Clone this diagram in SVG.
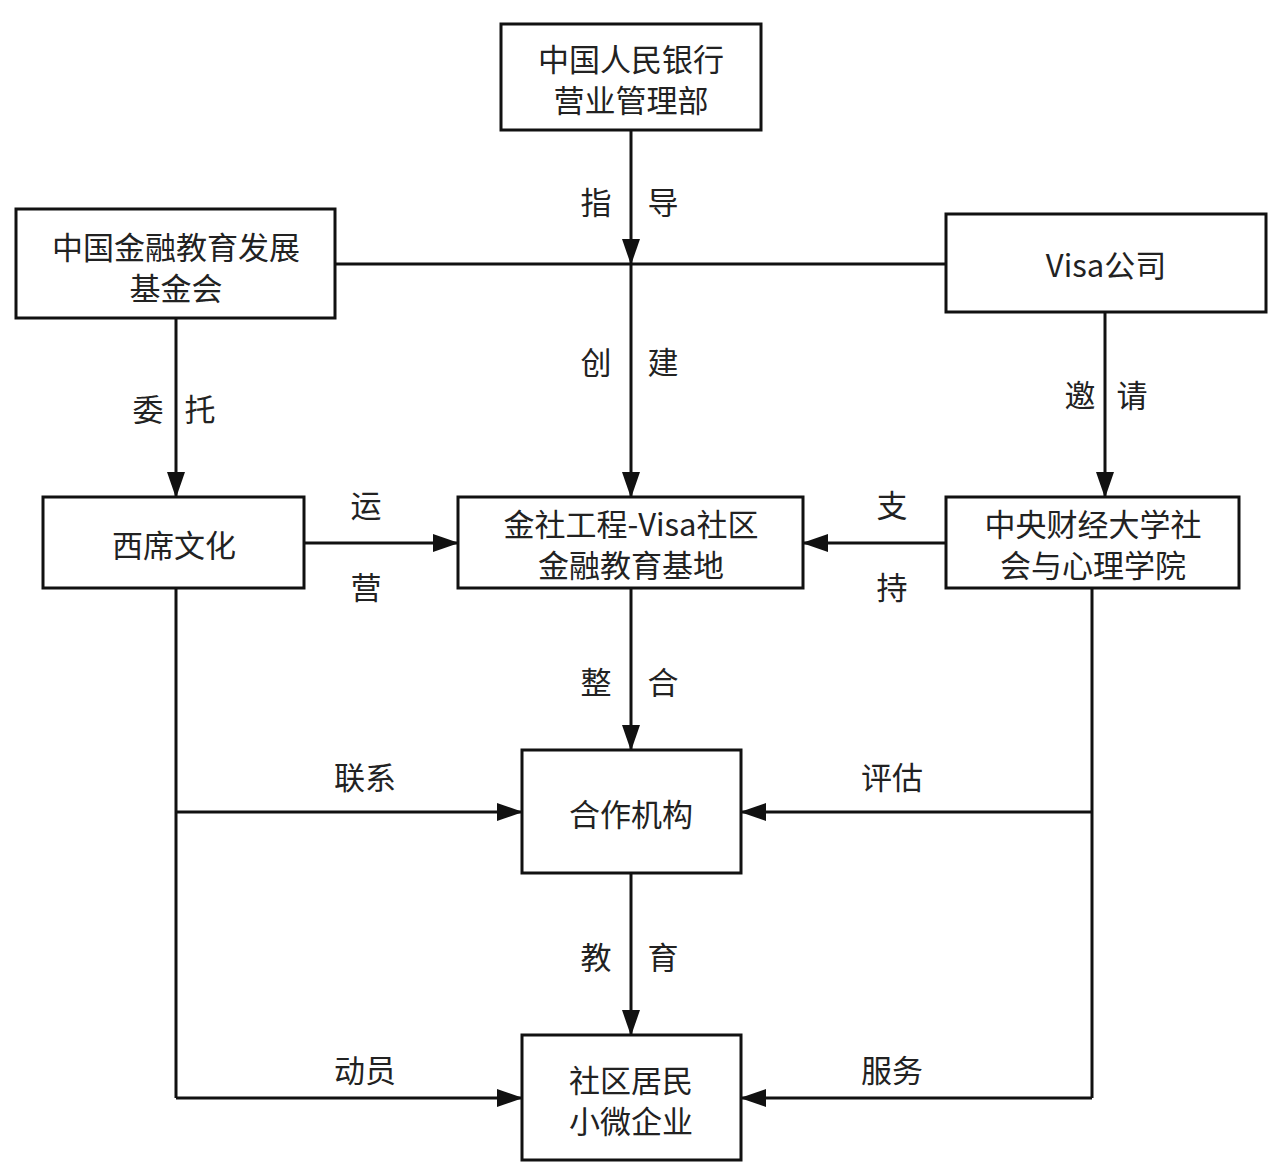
<svg xmlns="http://www.w3.org/2000/svg" width="1287" height="1167" viewBox="0 0 1287 1167">
<defs>
<marker id="ah" markerUnits="userSpaceOnUse" markerWidth="26" markerHeight="18" refX="25" refY="9" orient="auto">
<path d="M0,0 L26,9 L0,18 Z" fill="#111"/>
</marker>
<style>
.box{fill:#fff;stroke:#111;stroke-width:3}
.ln{fill:none;stroke:#111;stroke-width:3}
.arr{fill:none;stroke:#111;stroke-width:3;marker-end:url(#ah)}
text{font-family:"Noto Sans CJK SC","Noto Sans",sans-serif;font-size:31px;fill:#222;text-anchor:middle;dominant-baseline:central}
</style>
</defs>
<rect width="1287" height="1167" fill="#fff"/>
<g id="connectors">
<line class="arr" x1="631" y1="130" x2="631" y2="264"/>
<line class="arr" x1="631" y1="264" x2="631" y2="497"/>
<line class="ln" x1="335" y1="264" x2="946" y2="264"/>
<line class="arr" x1="176" y1="318" x2="176" y2="497"/>
<line class="arr" x1="1105" y1="312" x2="1105" y2="497"/>
<line class="arr" x1="304" y1="543" x2="458" y2="543"/>
<line class="arr" x1="946" y1="543" x2="803" y2="543"/>
<line class="arr" x1="631" y1="588" x2="631" y2="750"/>
<line class="arr" x1="631" y1="873" x2="631" y2="1035"/>
<line class="ln" x1="176" y1="588" x2="176" y2="1098"/>
<line class="arr" x1="176" y1="1098" x2="522" y2="1098"/>
<line class="arr" x1="176" y1="812" x2="522" y2="812"/>
<line class="ln" x1="1092" y1="588" x2="1092" y2="1098"/>
<line class="arr" x1="1092" y1="1098" x2="741" y2="1098"/>
<line class="arr" x1="1092" y1="812" x2="741" y2="812"/>
<text x="596" y="200">指</text><text x="663" y="200">导</text>
<text x="596" y="360">创</text><text x="663" y="360">建</text>
<text x="148" y="407">委</text><text x="200" y="407">托</text>
<text x="1080" y="393">邀</text><text x="1132" y="393">请</text>
<text x="366" y="503">运</text><text x="366" y="585">营</text>
<text x="892" y="503">支</text><text x="892" y="585">持</text>
<text x="596" y="680">整</text><text x="663" y="680">合</text>
<text x="596" y="955">教</text><text x="663" y="955">育</text>
<text x="365" y="775">联系</text>
<text x="892" y="775">评估</text>
<text x="365" y="1068">动员</text>
<text x="892" y="1068">服务</text>
</g>
<g id="n1"><rect class="box" x="501" y="24" width="260" height="106"/><text x="631" y="57">中国人民银行</text><text x="631" y="98">营业管理部</text></g>
<g id="n2"><rect class="box" x="16" y="209" width="319" height="109"/><text x="176" y="245">中国金融教育发展</text><text x="176" y="286">基金会</text></g>
<g id="n3"><rect class="box" x="946" y="214" width="320" height="98"/><text x="1106" y="263">Visa公司</text></g>
<g id="n4"><rect class="box" x="43" y="497" width="261" height="91"/><text x="174" y="543">西席文化</text></g>
<g id="n5"><rect class="box" x="458" y="497" width="345" height="91"/><text x="631" y="522">金社工程-Visa社区</text><text x="631" y="563">金融教育基地</text></g>
<g id="n6"><rect class="box" x="946" y="497" width="293" height="91"/><text x="1093" y="522">中央财经大学社</text><text x="1093" y="563">会与心理学院</text></g>
<g id="n7"><rect class="box" x="522" y="750" width="219" height="123"/><text x="631" y="812">合作机构</text></g>
<g id="n8"><rect class="box" x="522" y="1035" width="219" height="125"/><text x="631" y="1078">社区居民</text><text x="631" y="1119">小微企业</text></g>
</svg>
